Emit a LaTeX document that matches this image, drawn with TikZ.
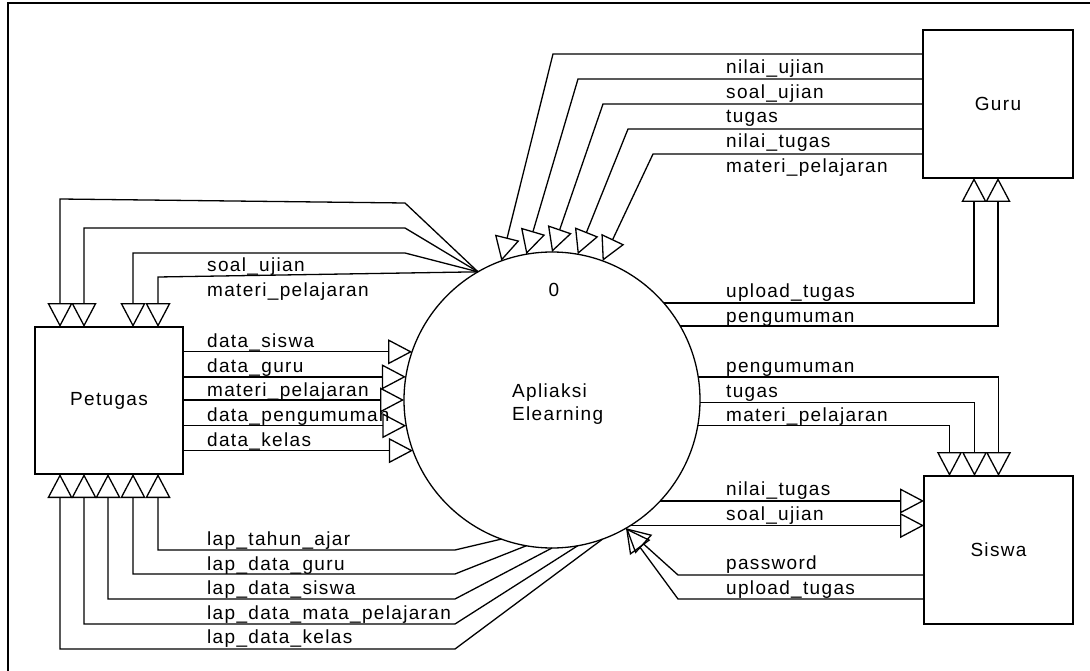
\documentclass[tikz,border=0pt]{standalone}
\usepackage{fontspec}
\setmainfont{Liberation Sans}[LetterSpace=7]
\usetikzlibrary{arrows.meta,calc,positioning}

\tikzset{
  entity/.style={draw,line width=1.3pt,minimum width=148pt,minimum height=147pt,inner sep=0pt,outer sep=0pt},
  proc/.style={draw,circle,line width=1.3pt,minimum size=296pt,inner sep=0pt,outer sep=0pt},
  flow/.style={line width=1.3pt,-{Triangle[open,length=24pt,width=25pt]}},
  frameline/.style={line width=1.3pt},
  lbl/.style={anchor=base west,inner sep=0pt}
}

\begin{document}
\begin{tikzpicture}[x=1pt,y=-1pt,font=\fontsize{19}{23}\selectfont]
\useasboundingbox (0,0) rectangle (1090,671);
%frame
\draw[frameline] (8,671) -- (8,3) -- (1090,3);
%entities
\node[entity] (petugas) at (109,400.5) {Petugas};
\node[entity,minimum width=150pt,minimum height=148pt] (guru) at (998,104) {Guru};
\node[entity,minimum width=149pt,minimum height=148pt] (siswa) at (998.5,550) {Siswa};
%process
\node[proc] (proc) at (552,400) {};
\node[anchor=base,inner sep=0pt] (pnum) at (554,297) {0};
\node[lbl] (pname) at (512,397) {Apliaksi};
\node[lbl] (pname2) at (512,420) {Elearning};

%petugas -> process
\draw[flow] (petugas.east |- proc.161) -- (proc.161);
\draw[flow] (petugas.east |- proc.171) -- (proc.171);
\draw[flow] (petugas.east |- proc.180) -- (proc.180);
\draw[flow] (petugas.east |- proc.190) -- (proc.190);
\draw[flow] (petugas.east |- proc.200) -- (proc.200);
\node[lbl] at (207,347) {data\_siswa};
\node[lbl] at (207,372) {data\_guru};
\node[lbl] at (207,396) {materi\_pelajaran};
\node[lbl] at (207,421) {data\_pengumuman};
\node[lbl] at (207,446) {data\_kelas};

%process -> petugas, top
\draw[flow] (proc.120) -- (405,203) -- (60,199) -- ($(petugas.north)+(-49,0)$);
\draw[flow] (proc.120) -- (405,228) -- (84,228) -- ($(petugas.north)+(-25,0)$);
\draw[flow] (proc.120) -- (405,253) -- (133,253) -- ($(petugas.north)+(24,0)$);
\draw[flow] (proc.120) -- (158,277) -- ($(petugas.north)+(49,0)$);
\node[lbl] at (207,272) {soal\_ujian};
\node[lbl] at (207,297) {materi\_pelajaran};

%process -> petugas, bottom
\draw[flow] (proc.250) -- (455,550) -| ($(petugas.south)+(49,0)$);
\draw[flow] (proc.260) -- (455,574) -| ($(petugas.south)+(24,0)$);
\draw[flow] (proc.270) -- (455,599) -| ($(petugas.south)+(-1,0)$);
\draw[flow] (proc.280) -- (455,624) -| ($(petugas.south)+(-25,0)$);
\draw[flow] (proc.290) -- (455,649) -| ($(petugas.south)+(-49,0)$);
\node[lbl] at (207,545) {lap\_tahun\_ajar};
\node[lbl] at (207,570) {lap\_data\_guru};
\node[lbl] at (207,594) {lap\_data\_siswa};
\node[lbl] at (207,619) {lap\_data\_mata\_pelajaran};
\node[lbl] at (207,643) {lap\_data\_kelas};

%guru -> process
\draw[flow] ($(guru.west)+(0,-50)$) -- (553,54) -- (proc.110);
\draw[flow] ($(guru.west)+(0,-25)$) -- (578,79) -- (proc.100);
\draw[flow] (guru.west) -- (603,104) -- (proc.90);
\draw[flow] ($(guru.west)+(0,25)$) -- (628,129) -- (proc.80);
\draw[flow] ($(guru.west)+(0,50)$) -- (653,154) -- (proc.70);
\node[lbl] at (726,74) {nilai\_ujian};
\node[lbl] at (726,99) {soal\_ujian};
\node[lbl] at (726,123) {tugas};
\node[lbl] at (726,148) {nilai\_tugas};
\node[lbl] at (726,173) {materi\_pelajaran};

%process -> guru
\draw[flow] (proc.41) -| ($(guru.south)+(-24,0)$);
\draw[flow] (proc.30) -| (guru.south);
\node[lbl] at (726,298) {upload\_tugas};
\node[lbl] at (726,322) {pengumuman};

%process -> siswa
\draw[flow] (proc.9) -| (siswa.north);
\draw[flow] (proc.359) -| ($(siswa.north)+(-24,0)$);
\draw[flow] (proc.350) -| ($(siswa.north)+(-49,0)$);
\node[lbl] at (726,372) {pengumuman};
\node[lbl] at (726,397) {tugas};
\node[lbl] at (726,421) {materi\_pelajaran};
\draw[flow] (proc.317) -- (proc.317 -| siswa.west);
\draw[flow] (proc.302) -- (proc.302 -| siswa.west);
\node[lbl] at (726,495) {nilai\_tugas};
\node[lbl] at (726,520) {soal\_ujian};

%siswa -> process
\draw[flow] ($(siswa.west)+(0,25)$) -- (678,575) -- (proc.300);
\draw[flow] ($(siswa.west)+(0,49)$) -- (678,599) -- (proc.300);
\node[lbl] at (726,569) {password};
\node[lbl] at (726,594) {upload\_tugas};
\end{tikzpicture}
\end{document}
